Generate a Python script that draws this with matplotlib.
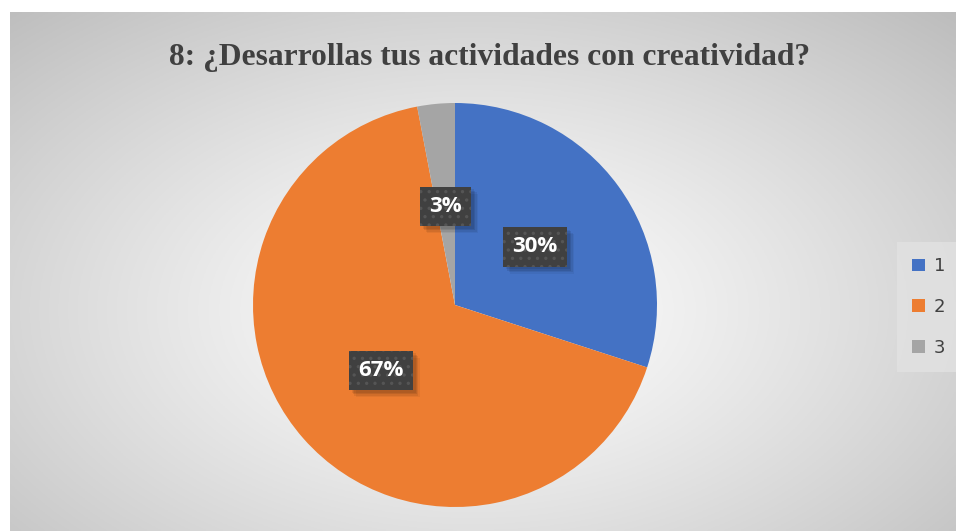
import numpy as np
import matplotlib
matplotlib.use("Agg")
import matplotlib.pyplot as plt
import matplotlib.patheffects as pe

# data
title = "8: ¿Desarrollas tus actividades con creatividad?"
categories = ["1", "2", "3"]
values = [30, 67, 3]
colors = ["#4472C4", "#ED7D31", "#A5A5A5"]


class NoHatchShadow(pe.SimplePatchShadow):
    # shadow of the label box, without the dotted hatch
    def draw_path(self, renderer, gc, tpath, affine, rgbFace):
        gc0 = renderer.new_gc()
        gc0.copy_properties(gc)
        gc0.set_hatch(None)
        super().draw_path(renderer, gc0, tpath, affine, rgbFace)


W, H = 956, 531
fig = plt.figure(figsize=(W / 100, H / 100), dpi=100)
fig.patch.set_facecolor("white")
plt.rcParams['hatch.linewidth'] = 1.2

# chart area with radial gradient background
x0 = 10 / W
bg = fig.add_axes([x0, 0.0, 1 - x0, (H - 12) / H])
bg.set_axis_off()
nx, ny = 400, 220
xx, yy = np.meshgrid(np.linspace(-1, 1, nx), np.linspace(-1, 1, ny))
cx, cy = -0.02, -0.15
d = np.sqrt(((xx - cx) / 1.05) ** 2 + ((yy - cy) / 1.15) ** 2)
d = np.clip(d / d.max(), 0, 1)
shade = 1.0 - 0.26 * d ** 1.2
img = np.dstack([shade, shade, shade])
bg.imshow(img, extent=[0, 1, 0, 1], aspect="auto", origin="lower")
bg.set_xlim(0, 1)
bg.set_ylim(0, 1)

# pie
r = 202
cxp, cyp = 455, 305
ax = fig.add_axes([(cxp - r) / W, (H - cyp - r) / H, 2 * r / W, 2 * r / H])
ax.set_axis_off()
wedges, texts, autotexts = ax.pie(values, colors=colors, startangle=90, counterclock=False,
                                  autopct='%1.0f%%', pctdistance=0.49, radius=1.0,
                                  wedgeprops=dict(linewidth=0))
ax.set_xlim(-1, 1)
ax.set_ylim(-1, 1)
shadow = [NoHatchShadow(offset=(k, -k), shadow_rgbFace="black", alpha=a)
          for k, a in [(5, 0.05), (4, 0.07), (3, 0.09), (2, 0.08)]]
for t in autotexts:
    t.set_color("white")
    t.set_fontweight("bold")
    t.set_fontsize(16)
    t.set_family("Open Sans")
    t.set_bbox(dict(boxstyle="square,pad=0.42", facecolor="#404040", edgecolor="#555555",
                    linewidth=0, hatch=".."))
    t.get_bbox_patch().set_path_effects(shadow + [pe.Normal()])

fig.text(490 / W, (H - 57) / H, title, ha="center", va="center", fontsize=22.7,
         fontweight="bold", family="Liberation Serif", color="#404040")

leg = fig.legend(wedges, categories, loc="center left", bbox_to_anchor=(902 / W, (H - 307) / H),
                 borderaxespad=0, fontsize=13, frameon=True, handlelength=0.7, handleheight=0.7,
                 handletextpad=0.5, labelspacing=1.25, borderpad=0.55)
leg.get_frame().set_facecolor("#e2e2e2")
leg.get_frame().set_edgecolor("none")
leg.get_frame().set_boxstyle("square")
for t in leg.get_texts():
    t.set_color("#404040")

fig.savefig("out.png", dpi=100)
